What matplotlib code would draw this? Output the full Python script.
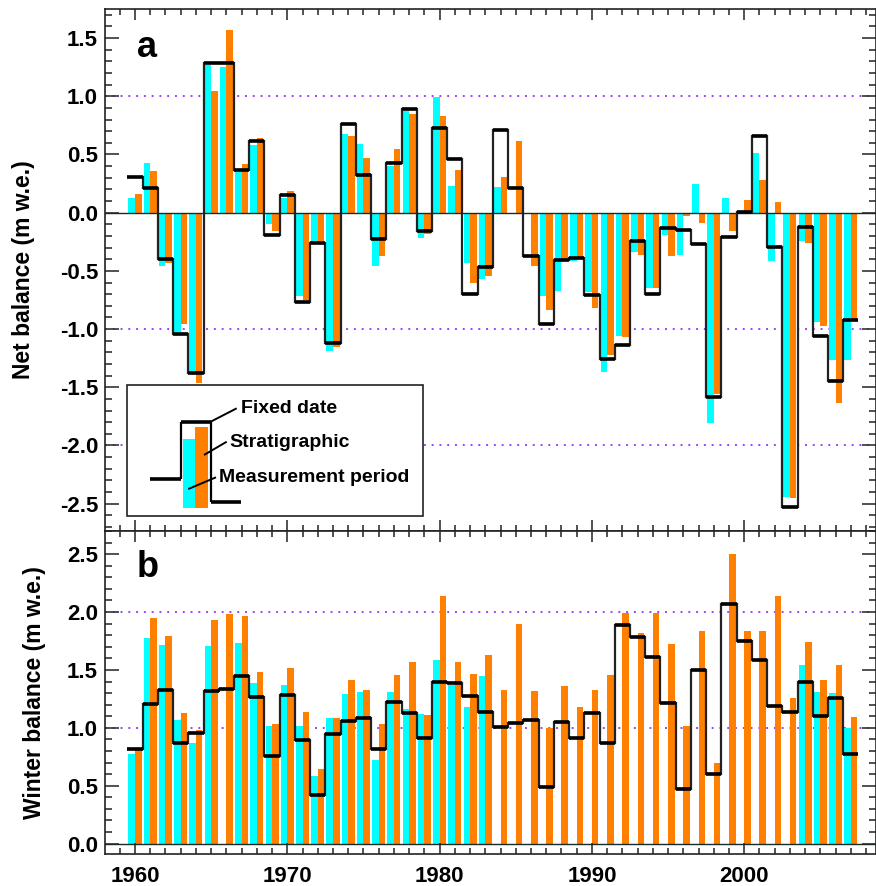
import numpy as np
import matplotlib.pyplot as plt
from matplotlib.patches import Rectangle
from matplotlib.ticker import MultipleLocator

plt.rcParams['font.family'] = ['Liberation Sans', 'DejaVu Sans']
plt.rcParams['font.weight'] = 'bold'
plt.rcParams['axes.unicode_minus'] = False

years = np.arange(1960, 2008)
nan = np.nan

# net balance (m w.e.)
net_fixed = [0.31, 0.21, -0.40, -1.04, -1.38, 1.285, 1.285, 0.37, 0.62, -0.19,
             0.15, -0.765, -0.26, -1.12, 0.76, 0.32, -0.225, 0.43, 0.89, -0.155,
             0.725, 0.465, -0.70, -0.47, 0.71, 0.21, -0.37, -0.955, -0.41, -0.39,
             -0.71, -1.26, -1.135, -0.24, -0.70, -0.13, -0.145, -0.27, -1.58, -0.205,
             0.01, 0.66, -0.295, -2.53, -0.12, -1.06, -1.445, -0.92]
net_meas = [0.13, 0.425, -0.46, -1.03, -1.38, 1.27, 1.255, 0.37, 0.58, -0.095,
            0.13, -0.72, -0.25, -1.185, 0.675, 0.59, -0.455, 0.40, 0.87, -0.22,
            0.99, 0.23, -0.435, -0.57, 0.22, nan, nan, -0.72, -0.67, -0.415,
            -0.685, -1.365, -1.06, -0.34, -0.645, -0.195, -0.36, 0.245, -1.81, 0.13,
            nan, 0.51, -0.415, -2.445, -0.245, -0.935, -1.27, -1.265]
net_strat = [0.16, 0.36, -0.43, -0.955, -1.46, 1.045, 1.57, 0.415, 0.645, -0.16,
             0.19, -0.75, -0.24, -1.15, 0.655, 0.47, -0.375, 0.545, 0.845, -0.18,
             0.83, 0.365, -0.605, -0.545, 0.305, 0.615, -0.455, -0.84, -0.41, -0.385,
             -0.815, -1.22, -1.07, -0.36, -0.65, -0.375, -0.03, -0.085, -1.555, -0.16,
             0.105, 0.285, 0.095, -2.45, -0.26, -0.97, -1.635, -0.915]

# winter balance (m w.e.)
win_fixed = [0.815, 1.205, 1.33, 0.865, 0.955, 1.32, 1.335, 1.45, 1.265, 0.755,
             1.28, 0.895, 0.42, 0.945, 1.055, 1.085, 0.815, 1.225, 1.13, 0.91,
             1.395, 1.39, 1.275, 1.14, 1.005, 1.04, 1.07, 0.485, 1.05, 0.915,
             1.125, 0.87, 1.885, 1.785, 1.615, 1.215, 0.47, 1.5, 0.605, 2.07,
             1.75, 1.585, 1.19, 1.14, 1.40, 1.105, 1.255, 0.775]
win_meas = [0.775, 1.775, 1.715, 1.065, 0.87, 1.705, nan, 1.73, 1.39, 1.015,
            1.37, 1.015, 0.585, 1.085, 1.295, 1.31, 0.72, 1.31, 1.16, 1.12,
            1.59, 1.37, 1.18, 1.445, nan, nan, nan, nan, nan, nan,
            nan, nan, nan, nan, nan, nan, nan, nan, nan, nan,
            nan, nan, nan, nan, 1.54, 1.31, 1.30, 1.0]
win_strat = [0.81, 1.945, 1.79, 1.125, 0.985, 1.935, 1.98, 1.97, 1.48, 1.03,
             1.515, 1.14, 0.645, 1.085, 1.41, 1.325, 1.03, 1.455, 1.565, 1.11,
             2.135, 1.565, 1.465, 1.625, 1.325, 1.895, 1.315, 1.0, 1.36, 1.18,
             1.325, 1.455, 1.99, 1.815, 1.99, 1.72, 1.015, 1.835, 0.695, 2.505,
             1.835, 1.84, 2.135, 1.255, 1.74, 1.41, 1.54, 1.09]

cyan = '#00ffff'
orange = '#ff8000'
grid_col = '#a040ff'
bw = 0.43

W, H = 876, 886
fig = plt.figure(figsize=(W / 100, H / 100), dpi=100)
x0, x1 = 105, 875.5
ax_a = fig.add_axes([x0 / W, 1 - 531 / H, (x1 - x0) / W, 522 / H])
ax_b = fig.add_axes([x0 / W, 1 - 854 / H, (x1 - x0) / W, 323 / H])


def draw_panel(ax, meas, strat, fixed, grid_vals):
    for g in grid_vals:
        ax.axhline(g, color=grid_col, lw=1.4, ls=(0, (1, 3)), zorder=0.5)
    ax.bar(years, meas, width=-bw, align='edge', color=cyan, zorder=1)
    ax.bar(years, strat, width=bw, align='edge', color=orange, zorder=1)
    ax.axhline(0, color='#1a2a2a', lw=1.0, zorder=2)
    edges = np.append(years - 0.5, years[-1] + 0.5)
    ax.stairs(fixed, edges, baseline=None, color='#222222', lw=1.6, zorder=3)
    ax.hlines(fixed, years - 0.5, years + 0.5, color='black', lw=2.6, zorder=4)
    ax.set_xlim(1958.03, 2008.62)
    ax.xaxis.set_major_locator(MultipleLocator(10))
    ax.xaxis.set_minor_locator(MultipleLocator(1))
    ax.yaxis.set_major_locator(MultipleLocator(0.5))
    ax.yaxis.set_minor_locator(MultipleLocator(0.1))
    ax.yaxis.set_major_formatter('{x:.1f}')
    ax.tick_params(which='both', direction='in', top=True, right=True,
                   color='#333333', width=1.2, labelsize=16)
    ax.tick_params(axis='y', which='major', length=10, pad=5)
    ax.tick_params(axis='y', which='minor', length=5)
    ax.tick_params(axis='x', which='major', length=8, pad=9)
    ax.tick_params(axis='x', which='minor', length=4)
    for s in ax.spines.values():
        s.set_linewidth(1.2)
        s.set_color('#222222')


draw_panel(ax_a, net_meas, net_strat, net_fixed, [1.0, -1.0, -2.0])
ax_a.set_ylim(-2.735, 1.75)
ax_a.tick_params(axis='x', labelbottom=False)
ax_a.set_ylabel('Net balance (m w.e.)', fontsize=16.5, fontweight='bold')
ax_a.yaxis.set_label_coords(-0.091, 0.5)
ax_a.text(0.0415, 0.908, 'a', transform=ax_a.transAxes, fontsize=26,
          fontweight='bold', va='baseline')

draw_panel(ax_b, win_meas, win_strat, win_fixed, [1.0, 2.0])
ax_b.set_ylim(-0.09, 2.70)
ax_b.set_ylabel('Winter balance (m w.e.)', fontsize=16.5, fontweight='bold')
ax_b.yaxis.set_label_coords(-0.077, 0.5)
ax_b.text(0.0415, 0.858, 'b', transform=ax_b.transAxes, fontsize=26,
          fontweight='bold', va='baseline')


# legend sketch, placed in pixel positions of panel a
def pa(x, y):
    return (x - x0) / (x1 - x0), (531 - y) / 522


tr = ax_a.transAxes
bx0, by0 = pa(127, 516)
bx1, by1 = pa(423, 385)
ax_a.add_patch(Rectangle((bx0, by0), bx1 - bx0, by1 - by0, transform=tr,
                         facecolor='white', edgecolor='#222222', lw=1.2, zorder=5))
ax_a.add_patch(Rectangle(pa(183.3, 508), pa(195, 439)[0] - pa(183.3, 508)[0],
                         pa(195, 439)[1] - pa(183.3, 508)[1], transform=tr,
                         facecolor=cyan, edgecolor='none', zorder=6))
ax_a.add_patch(Rectangle(pa(195, 508), pa(207.7, 427.3)[0] - pa(195, 508)[0],
                         pa(207.7, 427.3)[1] - pa(195, 508)[1], transform=tr,
                         facecolor=orange, edgecolor='none', zorder=6))
for (xa, ya), (xb, yb), lw in [((150, 479), (180.7, 479), 2.6),
                               ((180.7, 479), (180.7, 421.7), 1.6),
                               ((180.7, 421.7), (210.7, 421.7), 2.6),
                               ((210.7, 421.7), (210.7, 502), 1.6),
                               ((210.7, 502), (241, 502), 2.6),
                               ((210.7, 421.7), (236.7, 408.3), 1.4),
                               ((204, 455), (226.7, 441.7), 1.4),
                               ((188.3, 489), (216, 477.3), 1.4)]:
    p, q = pa(xa, ya), pa(xb, yb)
    ax_a.plot([p[0], q[0]], [p[1], q[1]], transform=tr, color='black',
              lw=lw, zorder=7, solid_capstyle='butt')
for (tx, ty), label in [((240.7, 409), 'Fixed date'),
                        ((229, 443), 'Stratigraphic'),
                        ((219.3, 478), 'Measurement period')]:
    ax_a.text(*pa(tx, ty), label, transform=tr, fontsize=14, fontweight='bold',
              va='center', ha='left', zorder=8)

fig.savefig('out.png', dpi=100)
